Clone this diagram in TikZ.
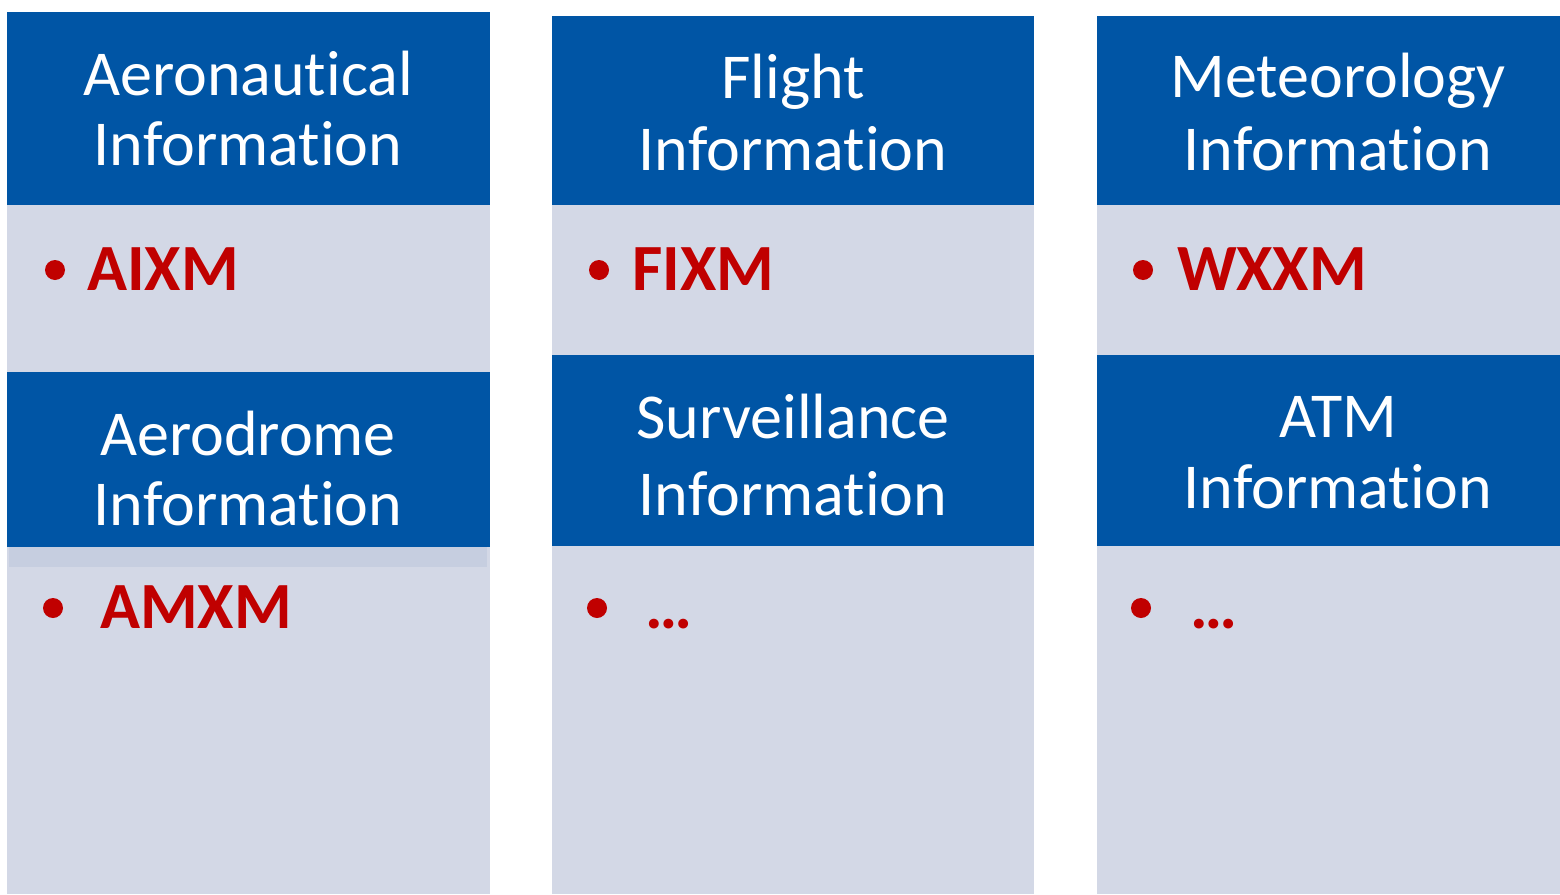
\documentclass[tikz,border=0pt]{standalone}
\usepackage{fontspec}
\setmainfont[Ligatures={NoCommon}]{Carlito}
\definecolor{hblue}{HTML}{0055A5}
\definecolor{cgrey}{HTML}{D3D8E6}
\definecolor{bandc}{HTML}{C6CEE0}
\definecolor{rred}{HTML}{C00000}
\tikzset{
  x=1pt,y=-1pt,
  hdr/.style={fill=hblue,draw=none,anchor=north west,inner sep=0},
  cnt/.style={fill=cgrey,draw=none,anchor=north west,inner sep=0},
  htext/.style={text=white,anchor=base,inner sep=0,font=\fontsize{64}{70}\selectfont},
  rtext/.style={text=rred,anchor=base west,inner sep=0,font=\fontsize{66}{72}\selectfont\bfseries},
  bul/.style={circle,fill=rred,inner sep=0,minimum size=20pt}
}
\begin{document}
\begin{tikzpicture}
\useasboundingbox (0,0) rectangle (1560,894);
% column 1
\node[cnt,minimum width=483pt,minimum height=180pt] (c1a) at (7,200) {};
\node[hdr,minimum width=483pt,minimum height=193pt] (h1a) at (7,12) {};
\node[cnt,minimum width=483pt,minimum height=350pt] (c1b) at (7,544) {};
\node[hdr,minimum width=483pt,minimum height=175pt] (h1b) at (7,372) {};
\node[fill=bandc,draw=none,anchor=north west,inner sep=0,minimum width=478pt,minimum height=20pt] (band) at (9,547) {};
% column 2
\node[cnt,minimum width=482pt,minimum height=160pt] (c2a) at (552,200) {};
\node[hdr,minimum width=482pt,minimum height=189pt] (h2a) at (552,16) {};
\node[cnt,minimum width=482pt,minimum height=350pt] (c2b) at (552,544) {};
\node[hdr,minimum width=482pt,minimum height=191pt] (h2b) at (552,355) {};
% column 3
\node[cnt,minimum width=463pt,minimum height=160pt] (c3a) at (1097,200) {};
\node[hdr,minimum width=463pt,minimum height=189pt] (h3a) at (1097,16) {};
\node[cnt,minimum width=463pt,minimum height=350pt] (c3b) at (1097,544) {};
\node[hdr,minimum width=463pt,minimum height=191pt] (h3b) at (1097,355) {};
% header texts
\node[htext] (t1a1) at (248,95) {Aeronautical};
\node[htext] (t1a2) at (248,165) {Information};
\node[htext] (t1b1) at (248,455) {Aerodrome};
\node[htext] (t1b2) at (248,525) {Information};
\node[htext] (t2a1) at (793,98) {Flight};
\node[htext] (t2a2) at (793,170) {Information};
\node[htext] (t2b1) at (793,438) {Surveillance};
\node[htext] (t2b2) at (793,515) {Information};
\node[htext] (t3a1) at (1338,97) {Meteorology};
\node[htext] (t3a2) at (1338,170) {Information};
\node[htext] (t3b1) at (1338,437) {ATM};
\node[htext] (t3b2) at (1338,508) {Information};
% bullets
\node[bul] (b1a) at (55,270) {};
\node[bul] (b2a) at (599,270) {};
\node[bul] (b3a) at (1143,270) {};
\node[bul] (b1b) at (53,608) {};
\node[bul] (b2b) at (597,608) {};
\node[bul] (b3b) at (1141,608) {};
% red texts
\node[rtext] (r1a) at (87,290) {AIXM};
\node[rtext] (r2a) at (632,290) {FIXM};
\node[rtext] (r3a) at (1177,290) {WXXM};
\node[rtext] (r1b) at (100,628) {AMXM};
\node[rtext] (r2b) at (645,628) {…};
\node[rtext] (r3b) at (1190,628) {…};
\end{tikzpicture}
\end{document}
